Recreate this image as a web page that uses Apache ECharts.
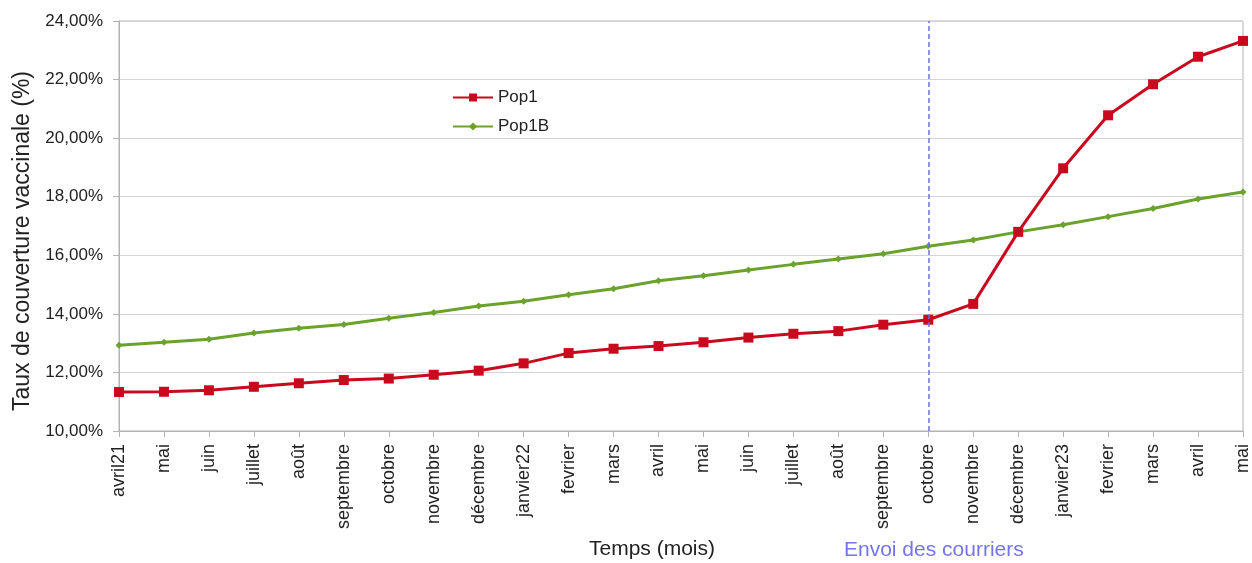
<!DOCTYPE html>
<html><head><meta charset="utf-8">
<script src="https://cdn.jsdelivr.net/npm/echarts@6/dist/echarts.min.js"></script>
<style>html,body{margin:0;padding:0;background:#fff}#c{width:1252px;height:563px}</style>
</head><body><div id="c"></div>
<script>
const categories = ['avril21','mai','juin','juillet','août','septembre','octobre','novembre','décembre','janvier22','fevrier','mars','avril','mai','juin','juillet','août','septembre','octobre','novembre','décembre','janvier23','fevrier','mars','avril','mai'];
const pop1 = [11.33,11.34,11.39,11.51,11.63,11.74,11.79,11.92,12.06,12.31,12.66,12.81,12.90,13.03,13.19,13.32,13.41,13.63,13.80,14.34,16.80,18.97,20.78,21.84,22.78,23.32];
const pop1B = [12.93,13.03,13.13,13.35,13.51,13.64,13.85,14.05,14.27,14.43,14.65,14.86,15.13,15.30,15.50,15.69,15.87,16.05,16.31,16.52,16.80,17.04,17.32,17.60,17.92,18.16];
const yTicks = [10,12,14,16,18,20,22,24];
const markerIndex = 18;

const chart = echarts.init(document.getElementById('c'));
const font = 'Liberation Sans, Arial, sans-serif';
chart.setOption({
  animation: false,
  grid: {left: 119, right: 9, top: 21, bottom: 132, outerBoundsMode: 'none', containLabel: false,
    show: true, borderColor: '#b3b3b3', borderWidth: 1},
  legend: {
    orient: 'vertical', left: 447, top: 84, itemGap: 12, itemWidth: 40, itemHeight: 10,
    textStyle: {fontFamily: font, fontSize: 17, color: '#222'},
    data: ['Pop1','Pop1B']
  },
  xAxis: {
    type: 'category', data: categories, boundaryGap: false,
    name: 'Temps (mois)', nameLocation: 'middle', nameGap: 108,
    nameTextStyle: {fontFamily: font, fontSize: 21, color: '#222', padding: [0, 58, 0, 0]},
    axisLine: {lineStyle: {color: '#b3b3b3'}},
    axisTick: {show: true, length: 6, lineStyle: {color: '#b3b3b3'}},
    axisLabel: {rotate: 90, interval: 0, fontFamily: font, fontSize: 18, color: '#222', margin: 13},
    splitLine: {show: false}
  },
  yAxis: {
    type: 'value', min: yTicks[0], max: yTicks[yTicks.length-1], interval: 2,
    name: 'Taux de couverture vaccinale (%)', nameLocation: 'middle', nameGap: 84,
    nameTextStyle: {fontFamily: font, fontSize: 23, color: '#222', padding: [0, 30, 0, 0]},
    axisLine: {show: true, lineStyle: {color: '#b3b3b3'}},
    axisTick: {show: true, length: 6, lineStyle: {color: '#b3b3b3'}},
    axisLabel: {fontFamily: font, fontSize: 17, color: '#222', margin: 16,
      formatter: v => v.toFixed(2).replace('.', ',') + '%'},
    splitLine: {lineStyle: {color: '#d4d4d4'}}
  },
  series: [
    {name: 'Pop1', type: 'line', data: pop1, symbol: 'rect', symbolSize: 10,
     lineStyle: {color: '#c8091e', width: 3}, itemStyle: {color: '#c8091e'}, z: 3,
     markLine: {silent: true, symbol: 'none', label: {show: false},
       lineStyle: {color: '#6b6bf2', type: [5, 3], width: 1.5},
       data: [{xAxis: markerIndex}]}},
    {name: 'Pop1B', type: 'line', data: pop1B, symbol: 'diamond', symbolSize: 7,
     lineStyle: {color: '#6aa22c', width: 3}, itemStyle: {color: '#6aa22c'}, z: 2}
  ],
  graphic: [{type: 'text', left: 844, top: 540,
    style: {text: 'Envoi des courriers', fill: '#7474ee', font: '21px Liberation Sans, Arial, sans-serif'}}]
});
</script></body></html>
